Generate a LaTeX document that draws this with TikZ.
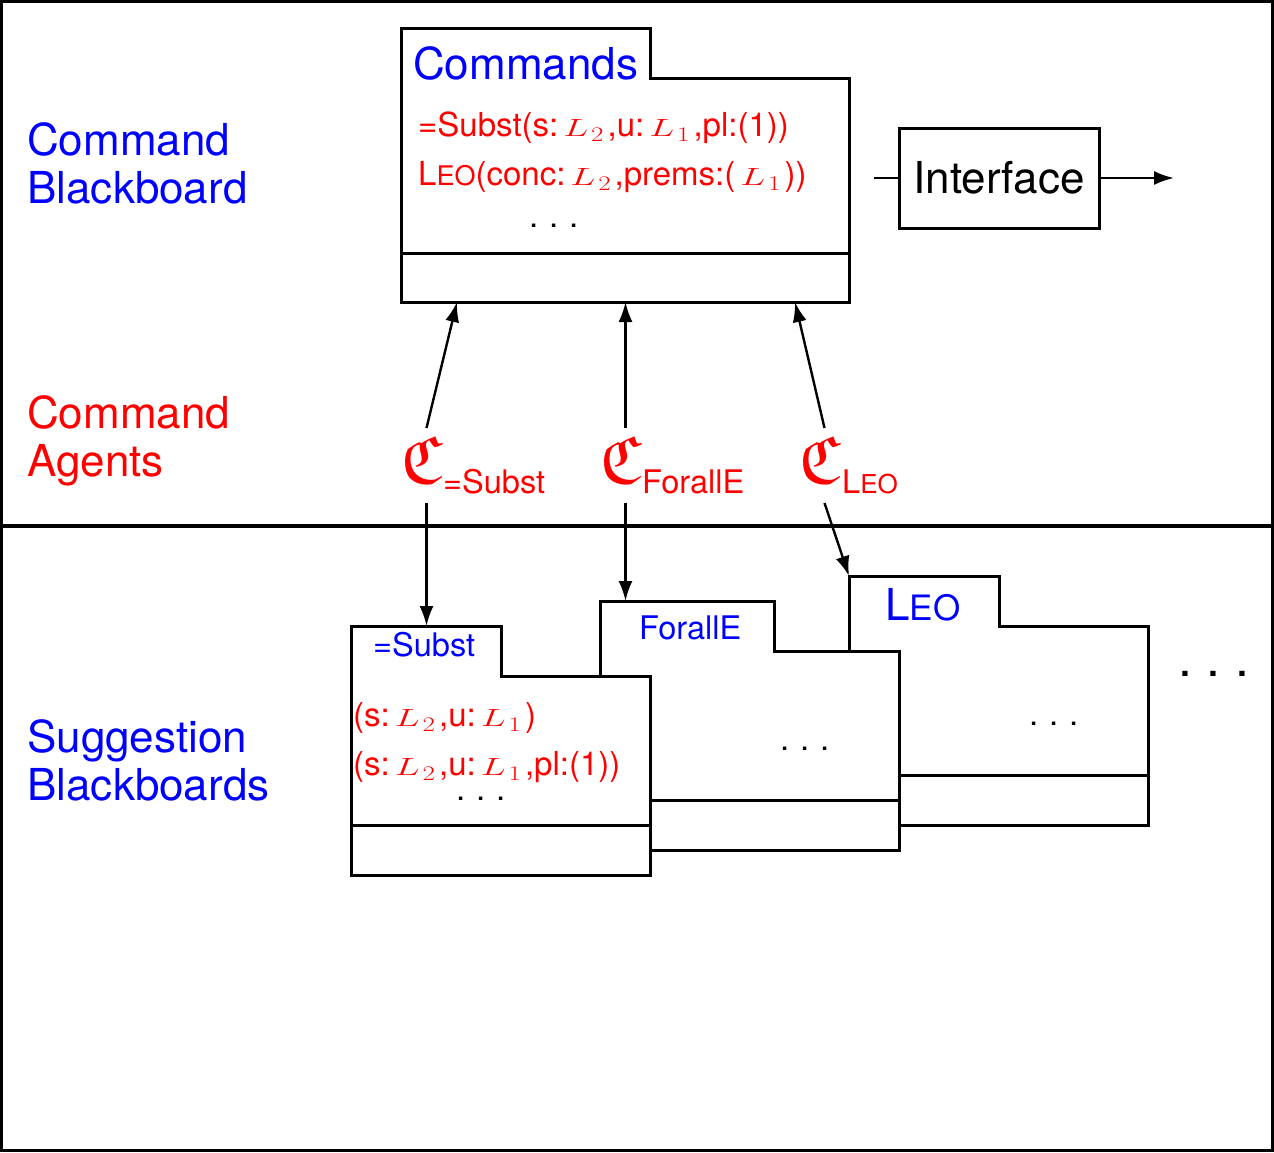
\documentclass[tikz,border=0pt]{standalone}
\usepackage{fontspec}
\setmainfont{TeX Gyre Heros}
\usepackage{graphicx}
\usetikzlibrary{arrows.meta}

% Euler Fraktur for the agent symbol, at a free size
\font\frakfont=eufm10 at 68pt

% font sizes (1 unit = 1pt)
\newcommand\szBig{\fontsize{44}{48}\selectfont}
\newcommand\szMid{\fontsize{33}{38}\selectfont}
\newcommand\szSub{\fontsize{32.5}{38}\selectfont}
% wide math L with a lowered index
\newcommand\Lsub[1]{\kern5pt\scalebox{1.5}[1]{\fontsize{24.88}{28}\selectfont$L$}\kern3pt\raisebox{-5pt}{\scalebox{1.3}[1]{\fontsize{20.74}{24}\selectfont$#1$}}\kern4pt}
% spaced dots
\newcommand\dotrow[1]{.\kern#1.\kern#1.}

\begin{document}
\begin{tikzpicture}[x=1pt,y=-1pt,
  frame/.style={line width=3pt},
  shell/.style={inner sep=0pt,outer sep=0pt,minimum width=#1},
  conn/.style={line width=2.4pt,-{Latex[length=20pt,width=14pt]}},
  label/.style={inner sep=0pt,anchor=base west,align=left},
  agent/.style={inner sep=0pt,outer sep=0pt,minimum width=49pt,minimum height=75pt,fill=white,text=red,font=\frakfont},
]
\useasboundingbox (0,0) rectangle (1274,1152);

% outer frame and divider
\draw[frame] (1.5,1.5) rectangle (1272.5,1150.5);
\coordinate (divL) at (1.5,526);
\coordinate (divR) at (1272.5,526);
\draw[line width=4pt] (divL) -- (divR);

% side captions (anchored on their last line)
\node[label,text=blue,font=\szBig] (capcb) at (27,203) {Command\\[0pt]Blackboard};
\node[label,text=red,font=\szBig] (capca) at (27,476) {Command\\[0pt]Agents};
\node[label,text=blue,font=\szBig] (capsb) at (27,800) {Suggestion\\[0pt]Blackboards};

% command blackboard
\node[shell=448pt,minimum height=224pt] (cmd) at (625,190) {};
\node[shell=249pt,minimum height=50pt] (cmdtab) at (525.5,53) {};
\draw[frame,fill=white] (cmdtab.south west) |- (cmdtab.north east) |- (cmd.north east) |- (cmd.south west) -- cycle;
\draw[frame] ([yshift=49pt]cmd.south west) -- ([yshift=49pt]cmd.south east);
\node[label,text=blue,font=\szBig] (cmdtitle) at (413,79) {Commands};
\node[label,text=red,font=\szMid] (cmd1) at (418,136) {=Subst(s:\Lsub{2},u:\Lsub{1},pl:(1))};
\node[label,text=red,font=\szMid] (cmd2) at (418,185) {L{\fontsize{27}{27}\selectfont EO}(conc:\Lsub{2},prems:(\Lsub{1}))};
\node[label,font=\szMid] (cmd3) at (529,227) {\dotrow{10.8pt}};

% interface
\node[draw,frame,minimum width=200pt,minimum height=100pt,inner sep=0pt,font=\szBig] (intf) at (999,178) {Interface};
\coordinate (intfin) at (874,178);
\coordinate (intfout) at (1174,178);
\draw[line width=2.4pt] (intfin) -- (intf.west);
\draw[conn] (intf.east) -- (intfout);

% suggestion blackboard: Leo
\node[shell=299pt,minimum height=199pt] (leo) at (998.5,725.5) {};
\node[shell=150pt,minimum height=50pt] (leotab) at (924,601) {};
\draw[frame,fill=white] (leotab.south west) |- (leotab.north east) |- (leo.north east) |- (leo.south west) -- cycle;
\draw[frame] ([yshift=50pt]leo.south west) -- ([yshift=50pt]leo.south east);
\node[label,text=blue,font=\szBig] (leotitle) at (885,620) {L{\fontsize{35}{35}\selectfont EO}};
\node[label,font=\szMid] (leodots) at (1029,725) {\dotrow{10.8pt}};

% suggestion blackboard: ForallE
\node[shell=299pt,minimum height=199pt] (fa) at (749.5,750.5) {};
\node[shell=174pt,minimum height=50pt] (fatab) at (687,626) {};
\draw[frame,fill=white] (fatab.south west) |- (fatab.north east) |- (fa.north east) |- (fa.south west) -- cycle;
\draw[frame] ([yshift=50pt]fa.south west) -- ([yshift=50pt]fa.south east);
\node[label,text=blue,font=\szSub] (fatitle) at (639,639) {ForallE};
\node[label,font=\szMid] (fadots) at (780,750) {\dotrow{10.8pt}};

% suggestion blackboard: =Subst
\node[shell=299pt,minimum height=199pt] (sb) at (500.5,775.5) {};
\node[shell=150pt,minimum height=50pt] (sbtab) at (426,651) {};
\draw[frame,fill=white] (sbtab.south west) |- (sbtab.north east) |- (sb.north east) |- (sb.south west) -- cycle;
\draw[frame] ([yshift=50pt]sb.south west) -- ([yshift=50pt]sb.south east);
\node[label,text=blue,font=\szSub] (sbtitle) at (373,656) {=Subst};
\node[label,text=red,font=\szMid] (sb1) at (353,726) {(s:\Lsub{2},u:\Lsub{1})};
\node[label,text=red,font=\szMid] (sb2) at (353,775) {(s:\Lsub{2},u:\Lsub{1},pl:(1))};
\node[label,font=\szMid] (sbdots) at (456,800) {\dotrow{10.8pt}};

% further blackboards
\node[label,font=\fontsize{50}{50}\selectfont] (more) at (1178,676) {\dotrow{14.8pt}};

% agents
\node[agent] (ag1) at (426.5,465.5) {\raisebox{12pt}{C}\kern8pt};
\node[label,text=red,font=\szSub] (ag1s) at (443,493) {=Subst};
\node[agent] (ag2) at (625.5,465.5) {\raisebox{12pt}{C}\kern8pt};
\node[label,text=red,font=\szSub] (ag2s) at (642,493) {ForallE};
\node[agent] (ag3) at (824.5,465.5) {\raisebox{12pt}{C}\kern8pt};
\node[label,text=red,font=\szSub] (ag3s) at (842,493) {L{\fontsize{26}{26}\selectfont EO}};

% agents write to the command blackboard
\draw[conn] (ag1.north) -- ([xshift=56pt]cmd.south west);
\draw[conn] (ag2.north) -- (ag2.north |- cmd.south);
\draw[conn] (ag3.north) -- ([xshift=-54pt]cmd.south east);
% agents read their suggestion blackboards
\draw[conn] (ag1.south) -- (ag1.south |- sbtab.north);
\draw[conn] (ag2.south) -- (ag2.south |- fatab.north);
\draw[conn] (ag3.south) -- (leotab.north west);
\end{tikzpicture}
\end{document}
